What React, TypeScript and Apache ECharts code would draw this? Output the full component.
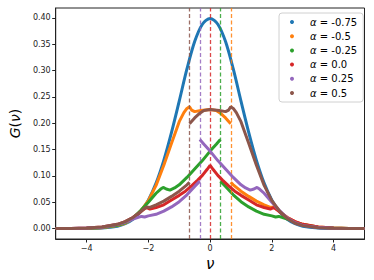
import React, { useEffect, useRef } from "react";
import * as echarts from "echarts";

const ALPHAS = ["-0.75", "-0.5", "-0.25", "0.0", "0.25", "0.5"];
const COLORS = ["#1f77b4", "#ff7f0e", "#2ca02c", "#d62728", "#9467bd", "#8c564b"];
const X_TICKS = [-4, -2, 0, 2, 4];
const Y_TICKS = [0, 0.05, 0.1, 0.15, 0.2, 0.25, 0.3, 0.35, 0.4];
// dashed vertical markers (null = none)
const VLINES: (number | null)[] = [null, 0.667, 0.333, 0, -0.333, -0.667];

const blueX = [-5, -4.5, -4, -3.5, -3, -2.75, -2.5, -2.25, -2, -1.75, -1.5, -1.25, -1, -0.75, -0.5, -0.25, 0, 0.25, 0.5, 0.75, 1, 1.25, 1.5, 1.75, 2, 2.25, 2.5, 2.75, 3, 3.5, 4, 4.5, 5];
const blueY = [0, 0, 0.0001, 0.0009, 0.0044, 0.0091, 0.0175, 0.0317, 0.054, 0.0863, 0.1295, 0.1826, 0.242, 0.303, 0.355, 0.388, 0.399, 0.388, 0.355, 0.303, 0.242, 0.1826, 0.1295, 0.0863, 0.054, 0.0317, 0.0175, 0.0091, 0.0044, 0.0009, 0.0001, 0, 0];

const orangeX = [-5, -4.5, -4, -3.5, -3, -2.75, -2.5, -2.25, -2, -1.75, -1.5, -1.25, -1, -0.85, -0.75, -0.667, -0.6, -0.5, -0.3, 0, 0.2, 0.333, 0.5, 0.667, 0.667, 0.667, 0.75, 1, 1.25, 1.5, 1.75, 1.95, 2.05, 2.15, 2.25, 2.5, 2.75, 3, 3.5, 4, 4.5, 5];
const orangeY = [0, 0.0001, 0.0003, 0.0015, 0.0055, 0.01, 0.019, 0.033, 0.053, 0.082, 0.12, 0.162, 0.203, 0.22, 0.228, 0.231, 0.225, 0.222, 0.224, 0.226, 0.224, 0.219, 0.21, 0.199, null, 0.088, 0.083, 0.071, 0.061, 0.052, 0.045, 0.04, 0.041, 0.037, 0.032, 0.021, 0.013, 0.008, 0.0027, 0.0008, 0.0002, 0];

const greenX = [-5, -4.5, -4, -3.5, -3, -2.75, -2.5, -2.25, -2, -1.75, -1.6, -1.52, -1.42, -1.3, -1.15, -1, -0.75, -0.5, -0.25, 0, 0.2, 0.333, 0.333, 0.333, 0.5, 0.75, 1, 1.25, 1.5, 1.75, 2, 2.12, 2.22, 2.35, 2.5, 2.75, 3, 3.5, 4, 4.5, 5];
const greenY = [0, 0.0001, 0.0004, 0.0018, 0.006, 0.011, 0.02, 0.034, 0.05, 0.067, 0.075, 0.078, 0.075, 0.073, 0.077, 0.083, 0.097, 0.113, 0.129, 0.147, 0.16, 0.169, null, 0.09, 0.08, 0.064, 0.051, 0.041, 0.033, 0.027, 0.024, 0.022, 0.023, 0.021, 0.018, 0.012, 0.0075, 0.0025, 0.0008, 0.0002, 0];

const redX = [-5, -4.5, -4, -3.5, -3, -2.75, -2.5, -2.35, -2.2, -2.07, -1.95, -1.75, -1.5, -1.25, -1, -0.8, -0.6, -0.4, -0.25, -0.1, 0, 0.1, 0.25, 0.4, 0.6, 0.8, 1, 1.25, 1.5, 1.75, 1.95, 2.07, 2.2, 2.35, 2.5, 2.75, 3, 3.5, 4, 4.5, 5];
const redY = [0, 0.0002, 0.0008, 0.0027, 0.008, 0.013, 0.021, 0.027, 0.034, 0.04, 0.037, 0.04, 0.045, 0.054, 0.063, 0.071, 0.081, 0.092, 0.101, 0.112, 0.12, 0.112, 0.101, 0.092, 0.081, 0.071, 0.063, 0.054, 0.045, 0.04, 0.037, 0.04, 0.034, 0.027, 0.021, 0.013, 0.008, 0.0027, 0.0008, 0.0002, 0];

const purpleX = [-5, -4.5, -4, -3.5, -3, -2.75, -2.5, -2.35, -2.22, -2.12, -2, -1.75, -1.5, -1.25, -1, -0.75, -0.5, -0.333, -0.333, -0.333, -0.2, 0, 0.25, 0.5, 0.75, 1, 1.15, 1.3, 1.42, 1.52, 1.6, 1.75, 2, 2.25, 2.5, 2.75, 3, 3.5, 4, 4.5, 5];
const purpleY = [0, 0.0002, 0.0008, 0.0025, 0.0075, 0.012, 0.018, 0.021, 0.023, 0.022, 0.024, 0.027, 0.033, 0.041, 0.051, 0.064, 0.08, 0.09, null, 0.169, 0.16, 0.147, 0.129, 0.113, 0.097, 0.083, 0.077, 0.073, 0.075, 0.078, 0.075, 0.067, 0.05, 0.034, 0.02, 0.011, 0.006, 0.0018, 0.0004, 0.0001, 0];

const brownX = [-5, -4.5, -4, -3.5, -3, -2.75, -2.5, -2.25, -2.15, -2.05, -1.95, -1.75, -1.5, -1.25, -1, -0.75, -0.667, -0.667, -0.667, -0.5, -0.333, -0.2, 0, 0.3, 0.5, 0.6, 0.667, 0.75, 0.85, 1, 1.25, 1.5, 1.75, 2, 2.25, 2.5, 2.75, 3, 3.5, 4, 4.5, 5];
const brownY = [0, 0.0002, 0.0008, 0.0027, 0.008, 0.013, 0.021, 0.032, 0.037, 0.041, 0.04, 0.045, 0.052, 0.061, 0.071, 0.083, 0.088, null, 0.199, 0.21, 0.219, 0.224, 0.226, 0.224, 0.222, 0.225, 0.231, 0.228, 0.22, 0.203, 0.162, 0.12, 0.082, 0.053, 0.033, 0.019, 0.01, 0.0055, 0.0015, 0.0003, 0.0001, 0];

const SERIES_X = [blueX, orangeX, greenX, redX, purpleX, brownX];
const SERIES_Y = [blueY, orangeY, greenY, redY, purpleY, brownY];

const FONT = "DejaVu Sans";

export default function App() {
  const ref = useRef<HTMLDivElement>(null);
  useEffect(() => {
    if (!ref.current) return;
    const chart = echarts.init(ref.current, null, { renderer: "svg" });
    const series = ALPHAS.map((a, i) => {
      const xs = SERIES_X[i];
      const ys = SERIES_Y[i];
      const data = xs.map((x, k) => (ys[k] === null ? [x, "-"] : [x, ys[k]]));
      const v = VLINES[i];
      const s: any = {
        name: `α = ${a}`,
        type: "line",
        data,
        showSymbol: false,
        smooth: i === 0 ? 0.3 : false,
        connectNulls: false,
        color: COLORS[i],
        lineStyle: { width: 3, color: COLORS[i] },
        emphasis: { disabled: true },
        z: 2 + i,
      };
      if (v !== null) {
        s.markLine = {
          silent: true,
          symbol: ["none", "none"],
          label: { show: false },
          lineStyle: { color: COLORS[i], type: [4, 2.5], width: 1.3, opacity: 0.85 },
          data: [{ xAxis: v }],
        };
      }
      return s;
    });
    const fmtX = (v: number) => (v < 0 ? "\u2212" + Math.abs(v) : String(v));
    chart.setOption({
      animation: false,
      grid: {
        left: 51.5,
        right: 9.5,
        top: 8,
        bottom: 41,
        show: true,
        borderColor: "#222",
        borderWidth: 1,
        backgroundColor: "transparent",
      },
      legend: {
        orient: "vertical",
        left: 279,
        top: 13,
        icon: "circle",
        itemWidth: 4,
        itemHeight: 4,
        itemGap: 2.2,
        padding: [3, 6, 3, 11],
        backgroundColor: "rgba(255,255,255,0.85)",
        borderColor: "#d0d0d0",
        borderWidth: 1,
        borderRadius: 3,
        formatter: (name: string) => name.replace("α", "{i|α}"),
        textStyle: {
          fontFamily: FONT,
          fontSize: 10,
          color: "#000",
          lineHeight: 12,
          padding: [0, 0, 0, 11],
          rich: {
            i: { fontFamily: FONT, fontSize: 10, fontStyle: "italic", color: "#000", lineHeight: 12 },
          },
        },
      },
      xAxis: {
        type: "value",
        min: -5,
        max: 5,
        splitLine: { show: false },
        axisLine: { show: true, onZero: false, lineStyle: { color: "#222", width: 1 } },
        axisTick: { show: true, length: 3.5, customValues: X_TICKS, lineStyle: { color: "#222" } },
        axisLabel: {
          customValues: X_TICKS,
          formatter: fmtX,
          fontFamily: FONT,
          fontSize: 8,
          color: "#222",
          margin: 5,
        },
        name: "ν",
        nameLocation: "middle",
        nameGap: 16,
        nameTextStyle: { fontFamily: FONT, fontStyle: "italic", fontSize: 15, color: "#000" },
      },
      yAxis: {
        type: "value",
        min: -0.0199,
        max: 0.4188,
        splitLine: { show: false },
        axisLine: { show: true, onZero: false, lineStyle: { color: "#222", width: 1 } },
        axisTick: { show: true, length: 3.5, customValues: Y_TICKS, lineStyle: { color: "#222" } },
        axisLabel: {
          customValues: Y_TICKS,
          formatter: (v: number) => v.toFixed(2),
          fontFamily: FONT,
          fontSize: 8,
          color: "#222",
          margin: 5,
        },
        name: "{i|G}(ν)".replace("ν", "{i|ν}"),
        nameLocation: "middle",
        nameGap: 30,
        nameTextStyle: {
          fontFamily: FONT,
          fontSize: 14,
          color: "#000",
          rich: { i: { fontFamily: FONT, fontSize: 14, fontStyle: "italic", color: "#000" } },
        },
      },
      series,
    });
    return () => chart.dispose();
  }, []);
  return (
    <div
      ref={ref}
      style={{ position: "fixed", left: 0, top: 0, width: 374, height: 280, background: "#fff" }}
    />
  );
}
